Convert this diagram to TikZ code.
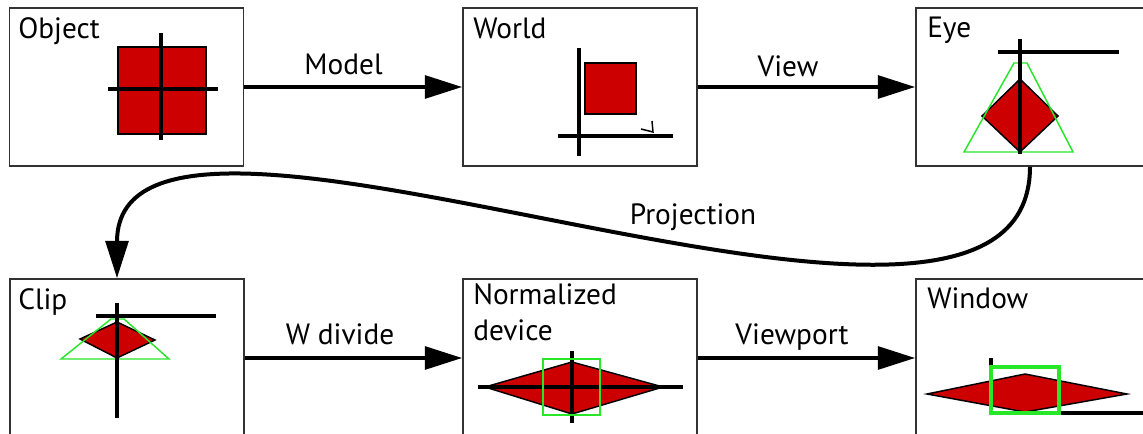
\documentclass[tikz,border=0pt]{standalone}
\usepackage{fontspec}
\setmainfont{PT Sans}
\usetikzlibrary{arrows.meta,calc}
\definecolor{redfill}{RGB}{204,0,0}
\definecolor{greenline}{RGB}{40,230,40}
\definecolor{framecol}{RGB}{50,50,50}
\begin{document}
\begin{tikzpicture}[x=0.75pt,y=-0.75pt,
  box/.style={draw=framecol, line width=1.2pt, fill=white, rectangle,
              minimum width=175.5pt, minimum height=118.5pt, inner sep=0pt},
  lbl/.style={inner sep=0pt, font=\fontsize{22pt}{27pt}\selectfont},
  conn/.style={line width=3pt, -{Triangle[length=28pt,width=17pt]}},
  axis/.style={line width=2.3pt},
  redshape/.style={fill=redfill, draw=black, line width=1.1pt, line join=miter},
  frus/.style={draw=greenline, line width=1.1pt},
]
\useasboundingbox (0,0) rectangle (1143,434);
\clip (0,0) rectangle (1143,434);

% boxes
\node[box] (b1) at (126.5,87) {};
\node[box] (b2) at (580,87) {};
\node[box] (b3) at (1033,87) {};
\node[box] (b4) at (127,358) {};
\node[box] (b5) at (580,358) {};
\node[box] (b6) at (1033,358) {};

% box titles
\node[lbl, anchor=base west] (t1) at (18,39) {Object};
\node[lbl, anchor=base west] (t2) at (473,39) {World};
\node[lbl, anchor=base west] (t3) at (927,38) {Eye};
\node[lbl, anchor=base west] (t4) at (18,310) {Clip};
\node[lbl, anchor=base west] (t5) at (473,305) {Normalized};
\node[lbl, anchor=base west] (t5b) at (473,341) {device};
\node[lbl, anchor=base west] (t6) at (927,309) {Window};

% connectors
\draw[conn] (b1) -- (b2);
\draw[conn] (b2) -- (b3);
\draw[conn] (b4) -- (b5);
\draw[conn] (b5) -- (b6);
\coordinate (pend) at ($(b4.north)+(-10,0)$);
\draw[conn] ($(b3.south)+(-3,0)$) .. controls (1030,446) and (117,16) .. (pend);

% connector labels
\node[lbl, anchor=base] (l1) at (343.5,75) {Model};
\node[lbl, anchor=base] (l2) at (788,77) {View};
\node[lbl, anchor=base] (l3) at (340,345) {W divide};
\node[lbl, anchor=base] (l4) at (792,345) {Viewport};
\node[lbl, anchor=base] (l5) at (693,225) {Projection};

% Object
\draw[redshape] (118,47) rectangle (206,134);
\draw[axis] (108,89) -- (218,89);
\draw[axis] (161,33) -- (161,140);

% World
\draw[redshape] (585,63) rectangle (636,114);
\draw[axis] (579,48) -- (579,156);
\draw[axis] (558,136) -- (673,136);
\draw[line width=1.1pt] (652,121) -- (653,132) -- (641,129);

% Eye
\draw[redshape] (1020,79) -- (1058,116) -- (1020,152) -- (982,116) -- cycle;
\draw[frus] (1014,63) -- (1027,63) -- (1073,152) -- (964,152) -- cycle;
\draw[axis] (998,52) -- (1119,52);
\draw[axis] (1020,39) -- (1020,154);

% Clip
\draw[redshape] (117,322) -- (155,340) -- (117,358) -- (80,339) -- cycle;
\draw[frus] (111,319) -- (124,319) -- (169,359) -- (61,359) -- cycle;
\draw[axis] (96,316) -- (216,316);
\draw[axis] (117,303) -- (117,418);

% Normalized device
\draw[redshape] (485,387) -- (572,362) -- (663,387) -- (572,414) -- cycle;
\draw[axis] (478,387) -- (683,387);
\draw[axis] (572,351) -- (572,423);
\draw[frus] (543,359) rectangle (600,415);

% Window
\draw[axis] (991,358) -- (991,372);
\draw[axis] (991,413) -- (1150,413);
\draw[redshape] (927,394) -- (1025,374) -- (1127,394) -- (1025,412) -- cycle;
\draw[draw=greenline, line width=2.8pt] (991,367) rectangle (1059,413);
\end{tikzpicture}
\end{document}
